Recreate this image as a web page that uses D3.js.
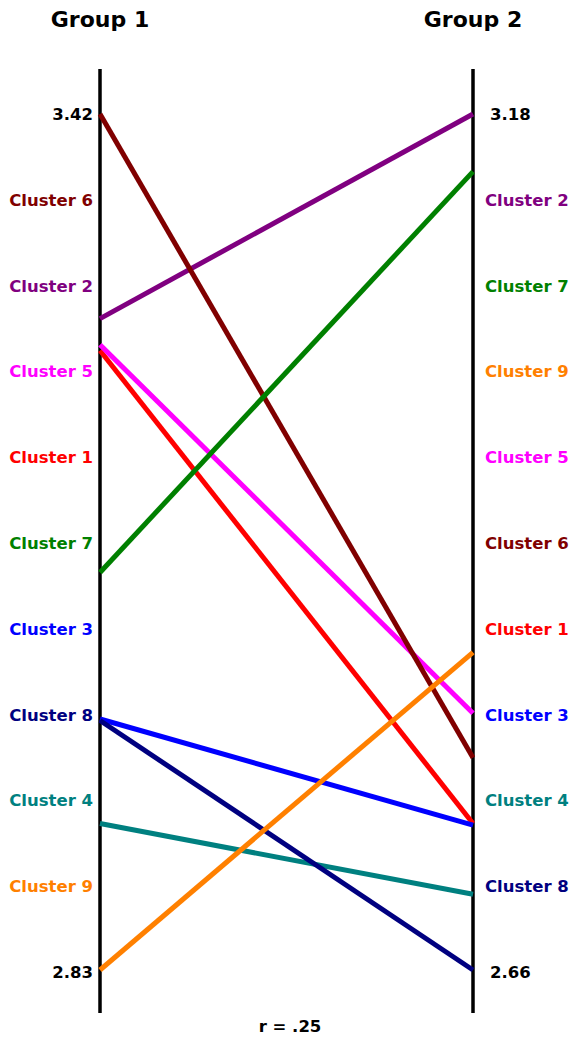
<!DOCTYPE html>
<html lang='en'>
    <head>
        <meta charset='utf-8'>
        <title>Slopegraph Group 1 vs Group 2</title>
        <script src="https://d3js.org/d3.v7.min.js" charset='utf-8'></script>
        <style type='text/css'>
            body {
                margin: 0;
                background: #fff;
            }
            svg {
                display: block;
                font-family: 'DejaVu Sans', Verdana, sans-serif;
                font-weight: bold;
            }
        </style>
    </head>
    <body>
        <script type='text/javascript'>
            // data, in draw order (cluster number)
            var clusters = ['Cluster 1', 'Cluster 2', 'Cluster 3', 'Cluster 4', 'Cluster 5',
                            'Cluster 6', 'Cluster 7', 'Cluster 8', 'Cluster 9'];
            var group1 = [3.257, 3.279, 3.003, 2.931, 3.261, 3.42, 3.104, 3.002, 2.83];
            var group2 = [2.749, 3.18, 2.748, 2.706, 2.816, 2.789, 3.145, 2.66, 2.853];
            var colors = ['#FF0000', '#800080', '#0000FF', '#008080', '#FF00FF',
                          '#800000', '#008000', '#000080', '#FF8000'];
            var groupNames = ['Group 1', 'Group 2'];
            var caption = 'r = .25';

            var width = 569, height = 1037;
            var svg = d3.select('body')
                .append('svg')
                .attr('width', width)
                .attr('height', height);

            var xLeft = 100, xRight = 473;
            var yTop = 114, yBottom = 970;

            var y1 = d3.scaleLinear()
                .domain(d3.extent(group1))
                .range([yBottom, yTop]);
            var y2 = d3.scaleLinear()
                .domain(d3.extent(group2))
                .range([yBottom, yTop]);

            // label slots: max value, clusters by rank, min value
            function slots(vals) {
                var order = d3.range(vals.length).sort(function(a, b) { return vals[b] - vals[a]; });
                var ext = d3.extent(vals);
                var items = [{text: ext[1].toFixed(2), color: '#000'}];
                order.forEach(function(i) {
                    items.push({text: clusters[i], color: colors[i]});
                });
                items.push({text: ext[0].toFixed(2), color: '#000'});
                return items;
            }
            var slotY = d3.scalePoint()
                .domain(d3.range(clusters.length + 2))
                .range([114, 972]);

            // axes
            [xLeft, xRight].forEach(function(x) {
                svg.append('line')
                    .attr('x1', x).attr('x2', x)
                    .attr('y1', 69).attr('y2', 1013)
                    .attr('stroke', '#000')
                    .attr('stroke-width', 3.5);
            });

            // titles
            svg.selectAll('.title')
                .data(groupNames)
                .enter()
                .append('text')
                .attr('class', 'title')
                .attr('x', function(d, i) { return i === 0 ? xLeft : xRight; })
                .attr('y', 27)
                .attr('text-anchor', 'middle')
                .attr('font-size', 22)
                .text(function(d) { return d; });

            // slopes
            svg.selectAll('.slope')
                .data(clusters)
                .enter()
                .append('line')
                .attr('class', 'slope')
                .attr('x1', xLeft)
                .attr('x2', xRight)
                .attr('y1', function(d, i) { return y1(group1[i]); })
                .attr('y2', function(d, i) { return y2(group2[i]); })
                .attr('stroke', function(d, i) { return colors[i]; })
                .attr('stroke-width', 5)
                .attr('stroke-linecap', 'butt');

            // labels
            svg.selectAll('.lab1')
                .data(slots(group1))
                .enter()
                .append('text')
                .attr('class', 'lab1')
                .attr('x', 93)
                .attr('y', function(d, i) { return slotY(i); })
                .attr('dy', '0.36em')
                .attr('text-anchor', 'end')
                .attr('font-size', 16.5)
                .attr('fill', function(d) { return d.color; })
                .text(function(d) { return d.text; });

            svg.selectAll('.lab2')
                .data(slots(group2))
                .enter()
                .append('text')
                .attr('class', 'lab2')
                .attr('x', function(d) { return d.color === '#000' ? 490 : 485; })
                .attr('y', function(d, i) { return slotY(i); })
                .attr('dy', '0.36em')
                .attr('text-anchor', 'start')
                .attr('font-size', 16.5)
                .attr('fill', function(d) { return d.color; })
                .text(function(d) { return d.text; });

            svg.append('text')
                .attr('x', 290)
                .attr('y', 1032)
                .attr('text-anchor', 'middle')
                .attr('font-size', 16.5)
                .text(caption);
        </script>
    </body>
</html>
